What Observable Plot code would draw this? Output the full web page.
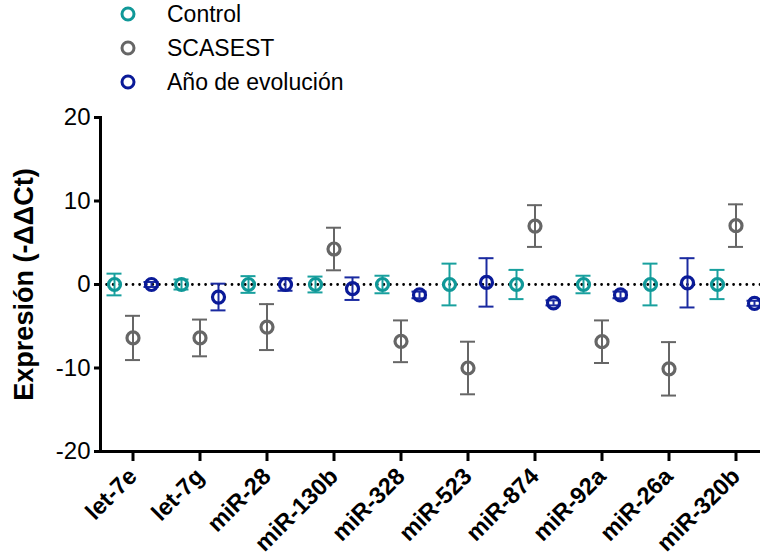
<!DOCTYPE html>
<html>
<head>
<meta charset="utf-8">
<script src="https://cdn.jsdelivr.net/npm/d3@7"></script>
<script src="https://cdn.jsdelivr.net/npm/@observablehq/plot@0.6"></script>
<style>
  body { margin: 0; background: white; font-family: "Liberation Sans", Arial, sans-serif; }
  #legend { position: relative; height: 100px; width: 760px; }
  .row { position: absolute; left: 0; height: 34px; display: flex; align-items: center; font-size: 23px; color: #000; }
  .row svg { position: absolute; left: 119px; }
  .row span { position: absolute; left: 167px; white-space: nowrap; }
</style>
</head>
<body>
<div id="legend"></div>
<div id="chart"></div>
<script>
const categories = ["let-7e","let-7g","miR-28","miR-130b","miR-328","miR-523","miR-874","miR-92a","miR-26a","miR-320b"];
const groups = ["Control","SCASEST","Año de evolución"];
const controlMean = [0, 0, 0, 0, 0, 0, 0, 0, 0, 0];
const controlErr  = [1.3, 0.6, 1.0, 0.95, 1.05, 2.5, 1.75, 1.05, 2.5, 1.75];
const scasestMean = [-6.4, -6.4, -5.1, 4.25, -6.8, -10.0, 7.0, -6.85, -10.1, 7.05];
const scasestErr  = [2.65, 2.2, 2.75, 2.55, 2.5, 3.15, 2.5, 2.55, 3.2, 2.55];
const anoMean = [0, -1.5, 0, -0.5, -1.25, 0.25, -2.2, -1.25, 0.2, -2.25];
const anoErr  = [0.3, 1.6, 0.75, 1.35, 0.4, 2.9, 0.3, 0.4, 2.95, 0.3];
const yTicks = [-20, -10, 0, 10, 20];
const yTitle = "Expresión (-ΔΔCt)";

const series = [
  {name: groups[0], mean: controlMean, err: controlErr, color: "#109898", bar: "#18a09e", dx: -18.5},
  {name: groups[1], mean: scasestMean, err: scasestErr, color: "#666666", bar: "#666666", dx: 0},
  {name: groups[2], mean: anoMean, err: anoErr, color: "#0a1a98", bar: "#1a2aa0", dx: 18.5}
];

// Legend
const legend = document.getElementById("legend");
series.forEach((s, i) => {
  const row = document.createElement("div");
  row.className = "row";
  row.style.top = (-3 + i * 34) + "px";
  row.style.width = "760px";
  row.innerHTML = `<svg width="18" height="18"><circle cx="9" cy="9" r="6" fill="none" stroke="${s.color}" stroke-width="3"/></svg><span>${s.name}</span>`;
  legend.appendChild(row);
});

const marks = [
  Plot.ruleY([0], {strokeDasharray: "0,6.6", strokeLinecap: "round", strokeWidth: 2.8, stroke: "black"})
];
for (const s of series) {
  const rows = categories.map((c, i) => ({cat: c, group: s.name, mean: s.mean[i], err: s.err[i]}));
  marks.push(
    Plot.ruleX(rows, {x: "cat", y1: d => d.mean - d.err, y2: d => d.mean + d.err, dx: s.dx, stroke: s.bar, strokeWidth: 2}),
    Plot.tickY(rows, {x: "cat", y: d => d.mean + d.err, dx: s.dx, insetLeft: 26, insetRight: 26, stroke: s.bar, strokeWidth: 2}),
    Plot.tickY(rows, {x: "cat", y: d => d.mean - d.err, dx: s.dx, insetLeft: 26, insetRight: 26, stroke: s.bar, strokeWidth: 2}),
    Plot.dot(rows, {x: "cat", y: "mean", dx: s.dx, r: 6, stroke: s.color, strokeWidth: 3.2, fill: "none"})
  );
}
marks.push(
  Plot.axisY({ticks: yTicks, tickSize: 6, tickPadding: 4, fontSize: 24, strokeWidth: 3, label: null, tickFormat: d => String(d)}),
  Plot.axisX({tickSize: 10, tickPadding: 11, tickRotate: -45, fontSize: 23.5, fontWeight: "bold", strokeWidth: 3, label: null}),
  Plot.frame({anchor: "left", strokeWidth: 3}),
  Plot.frame({anchor: "bottom", strokeWidth: 3}),
  Plot.text([yTitle], {frameAnchor: "left", textAnchor: "middle", lineAnchor: "middle", rotate: -90, dx: -76.5, dy: 0, fontSize: 27, fontWeight: "bold", fill: "black"})
);

const chart = Plot.plot({
  width: 760,
  height: 458,
  marginTop: 17,
  marginBottom: 107,
  marginLeft: 100,
  marginRight: 0,
  style: {fontFamily: "'Liberation Sans', Arial, sans-serif", color: "black", background: "white", overflow: "visible"},
  x: {type: "band", domain: categories, range: [98.5, 768.5], padding: 0, label: null},
  y: {domain: [-20, 20], label: null},
  marks
});
document.getElementById("chart").appendChild(chart);
</script>
</body>
</html>
